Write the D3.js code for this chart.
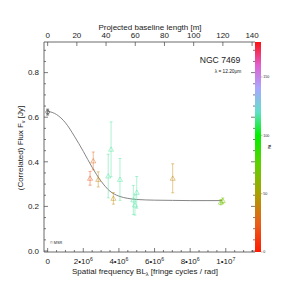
<!DOCTYPE html>
<html><head><meta charset="utf-8">
<script src="https://cdn.jsdelivr.net/npm/d3@7"></script>
<style>
body{margin:0;background:#fff}
svg{display:block}
text{font-family:"Liberation Sans",Arial,Helvetica,sans-serif;fill:#1a1a1a}
</style>
</head><body>
<svg id="chart" width="299" height="294"></svg>
<script>
// ---------- data ----------
const lambdaMetres = 12.2e-6;
const xTickValues = [0, 2e6, 4e6, 6e6, 8e6, 1e7];
const xTickMantissa = ["0", "2•10", "4•10", "6•10", "8•10", "1•10"];
const xTickExponent = ["", "6", "6", "6", "6", "7"];
const topTickValues = [0, 20, 40, 60, 80, 100, 120, 140];
const yTickValues = [0, 0.2, 0.4, 0.6, 0.8];
const yTickLabels = ["0.0", "0.2", "0.4", "0.6", "0.8"];
const paTickValues = [0, 50, 100, 150];
const paTickLabels = ["0", "50", "100", "150"];

// model curve (spatial frequency in 1e6 cycles/rad, flux in Jy)
const modelSF   = [0, 0.5, 1.0, 1.5, 2.0, 2.5, 3.0, 3.5, 4.0, 4.5, 5.0, 6.0, 7.0, 8.0, 9.0, 9.8];
const modelFlux = [0.627, 0.612, 0.575, 0.515, 0.447, 0.375, 0.313, 0.268, 0.246, 0.236, 0.231, 0.228, 0.227, 0.226, 0.226, 0.226];

// correlated flux measurements
const pointSF   = [2.38, 2.56, 2.84, 3.40, 3.56, 3.69, 4.06, 4.81, 4.90, 5.00, 7.02, 9.72, 9.83];
const pointFlux = [0.326, 0.404, 0.321, 0.336, 0.456, 0.236, 0.321, 0.229, 0.206, 0.263, 0.326, 0.219, 0.226];
const pointErr  = [0.031, 0.040, 0.034, 0.098, 0.123, 0.026, 0.094, 0.065, 0.045, 0.071, 0.065, 0.012, 0.012];
const pointPA   = [18, 28, 40, 116, 116, 42, 116, 116, 116, 116, 40, 68, 68];

// single-dish total flux
const totalSF = [0];
const totalFlux = [0.623];
const totalErr = [0.013];

// colour table for position angle
const paStops = [0, 25, 50, 75, 100, 120, 140, 160, 180];
const paColors = ["#ff1a00", "#e8601a", "#a8a000", "#60d000", "#00f000", "#60e0c8", "#a8a8ff", "#e060d0", "#ff1010"];

// ---------- layout ----------
const svg = d3.select("#chart");
const L = 44, R = 255, T = 42, B = 252;
const cbX0 = 255, cbX1 = 261;
const axisColor = "#444";

const xM = d3.scaleLinear().domain([-2.5, 142]).range([L, R]);
const xSF = d3.scaleLinear().domain([-2.5 / lambdaMetres, 142 / lambdaMetres]).range([L, R]);
const y = d3.scaleLinear().domain([-0.0045, 0.9373]).range([B, T]);
const paY = d3.scaleLinear().domain([0, 180]).range([B, T]);
const paColor = d3.scaleLinear().domain(paStops).range(paColors);

// ---------- colour bar ----------
const defs = svg.append("defs");
const grad = defs.append("linearGradient").attr("id", "cb")
  .attr("x1", 0).attr("x2", 0).attr("y1", 1).attr("y2", 0);
grad.selectAll("stop").data(paStops).enter().append("stop")
  .attr("offset", d => d / 180).attr("stop-color", (d, i) => paColors[i]);
svg.append("rect").attr("x", cbX0).attr("y", T).attr("width", cbX1 - cbX0).attr("height", B - T)
  .attr("fill", "url(#cb)");

// colour bar right ticks and labels
paTickValues.forEach((v, i) => {
  svg.append("line").attr("x1", cbX1).attr("x2", cbX1 + 1.5).attr("y1", paY(v)).attr("y2", paY(v))
    .attr("stroke", "#888").attr("stroke-width", 0.6);
  svg.append("text").attr("x", cbX1 + 2.2).attr("y", paY(v) + 1.3).attr("font-size", 3.6)
    .attr("fill", "#555").text(paTickLabels[i]);
});
svg.append("text").attr("transform", `translate(271,147) rotate(-90)`).attr("text-anchor", "middle")
  .attr("font-size", 3.6).attr("fill", "#555").text("PA");

// ---------- axes frame ----------
svg.append("line").attr("x1", L).attr("x2", L).attr("y1", T).attr("y2", B).attr("stroke", axisColor).attr("stroke-width", 0.8);
svg.append("line").attr("x1", L).attr("x2", R).attr("y1", B).attr("y2", B).attr("stroke", axisColor).attr("stroke-width", 0.8);
svg.append("line").attr("x1", L).attr("x2", R).attr("y1", T).attr("y2", T).attr("stroke", axisColor).attr("stroke-width", 0.8);

// y ticks (left and mirrored on colour bar)
const yMinor = d3.range(0, 0.94, 0.05);
yMinor.forEach(v => {
  const major = Math.abs(Math.round(v / 0.2) * 0.2 - v) < 1e-6;
  const len = major ? 4 : 2;
  svg.append("line").attr("x1", L).attr("x2", L + len).attr("y1", y(v)).attr("y2", y(v)).attr("stroke", axisColor).attr("stroke-width", 0.7);
  svg.append("line").attr("x1", cbX0).attr("x2", cbX0 - len).attr("y1", y(v)).attr("y2", y(v)).attr("stroke", axisColor).attr("stroke-width", 0.7);
});
yTickValues.forEach((v, i) => {
  svg.append("text").attr("x", 39).attr("y", y(v) + 2.8).attr("text-anchor", "end")
    .attr("font-size", 8).text(yTickLabels[i]);
});

// bottom ticks
const xMinor = d3.range(0, 1.16e7, 0.5e6);
xMinor.forEach(v => {
  const major = Math.abs(Math.round(v / 2e6) * 2e6 - v) < 1;
  const len = major ? 4 : 2;
  svg.append("line").attr("x1", xSF(v)).attr("x2", xSF(v)).attr("y1", B).attr("y2", B - len).attr("stroke", axisColor).attr("stroke-width", 0.7);
});
xTickValues.forEach((v, i) => {
  const t = svg.append("text").attr("x", xSF(v)).attr("y", 264).attr("text-anchor", "middle").attr("font-size", 8);
  t.append("tspan").text(xTickMantissa[i]);
  if (xTickExponent[i]) t.append("tspan").attr("dy", -3.5).attr("font-size", 5.2).text(xTickExponent[i]);
});

// top ticks
topTickValues.forEach(v => {
  svg.append("line").attr("x1", xM(v)).attr("x2", xM(v)).attr("y1", T).attr("y2", T + 4).attr("stroke", axisColor).attr("stroke-width", 0.7);
  svg.append("text").attr("x", xM(v)).attr("y", 37.5).attr("text-anchor", "middle").attr("font-size", 8).text(v);
});

// axis titles
svg.append("text").attr("x", 150).attr("y", 30).attr("text-anchor", "middle").attr("font-size", 8)
  .text("Projected baseline length [m]");
const xt = svg.append("text").attr("x", 145).attr("y", 273.5).attr("text-anchor", "middle").attr("font-size", 8);
xt.append("tspan").text("Spatial frequency BL");
xt.append("tspan").attr("dy", 2).attr("font-size", 5.5).text("λ");
xt.append("tspan").attr("dy", -2).text(" [fringe cycles / rad]");
const yt = svg.append("text").attr("transform", "translate(23,148) rotate(-90)").attr("text-anchor", "middle").attr("font-size", 8);
yt.append("tspan").text("(Correlated) Flux F");
yt.append("tspan").attr("dy", 2).attr("font-size", 5.5).text("ν");
yt.append("tspan").attr("dy", -2).text(" [Jy]");

// annotations
svg.append("text").attr("x", 220).attr("y", 63).attr("text-anchor", "middle").attr("font-size", 8.6).text("NGC 7469");
svg.append("text").attr("x", 228).attr("y", 72.5).attr("text-anchor", "middle").attr("font-size", 4.8).text("λ = 12.20μm");
svg.append("text").attr("x", 50).attr("y", 243.5).attr("font-size", 3.8).attr("fill", "#555").text("© MSR");

// ---------- model curve ----------
const line = d3.line().x(d => xSF(d[0] * 1e6)).y(d => y(d[1])).curve(d3.curveMonotoneX);
svg.append("path").datum(modelSF.map((s, i) => [s, modelFlux[i]]))
  .attr("d", line).attr("fill", "none").attr("stroke", "#777").attr("stroke-width", 0.9);

// ---------- measurements ----------
const tri = d3.symbol().type(d3.symbolTriangle).size(11);
pointSF.forEach((s, i) => {
  const cx = xSF(s * 1e6), cy = y(pointFlux[i]);
  const top = y(pointFlux[i] + pointErr[i]), bot = y(pointFlux[i] - pointErr[i]);
  const g = svg.append("g").attr("stroke", paColor(pointPA[i])).attr("stroke-opacity", 0.5).attr("fill", "none").attr("stroke-width", 0.9);
  g.append("line").attr("x1", cx).attr("x2", cx).attr("y1", top).attr("y2", bot);
  g.append("line").attr("x1", cx - 1.5).attr("x2", cx + 1.5).attr("y1", top).attr("y2", top);
  g.append("line").attr("x1", cx - 1.5).attr("x2", cx + 1.5).attr("y1", bot).attr("y2", bot);
  g.append("path").attr("d", tri).attr("transform", `translate(${cx},${cy + 0.5})`);
});

totalSF.forEach((s, i) => {
  const cx = xSF(s * 1e6), cy = y(totalFlux[i]);
  const top = y(totalFlux[i] + totalErr[i]), bot = y(totalFlux[i] - totalErr[i]);
  const g = svg.append("g").attr("stroke", "#555").attr("fill", "none").attr("stroke-width", 0.8);
  g.append("line").attr("x1", cx).attr("x2", cx).attr("y1", top).attr("y2", bot);
  g.append("line").attr("x1", cx - 1.5).attr("x2", cx + 1.5).attr("y1", top).attr("y2", top);
  g.append("line").attr("x1", cx - 1.5).attr("x2", cx + 1.5).attr("y1", bot).attr("y2", bot);
  g.append("circle").attr("cx", cx).attr("cy", cy).attr("r", 1.8);
});
</script>
</body></html>
